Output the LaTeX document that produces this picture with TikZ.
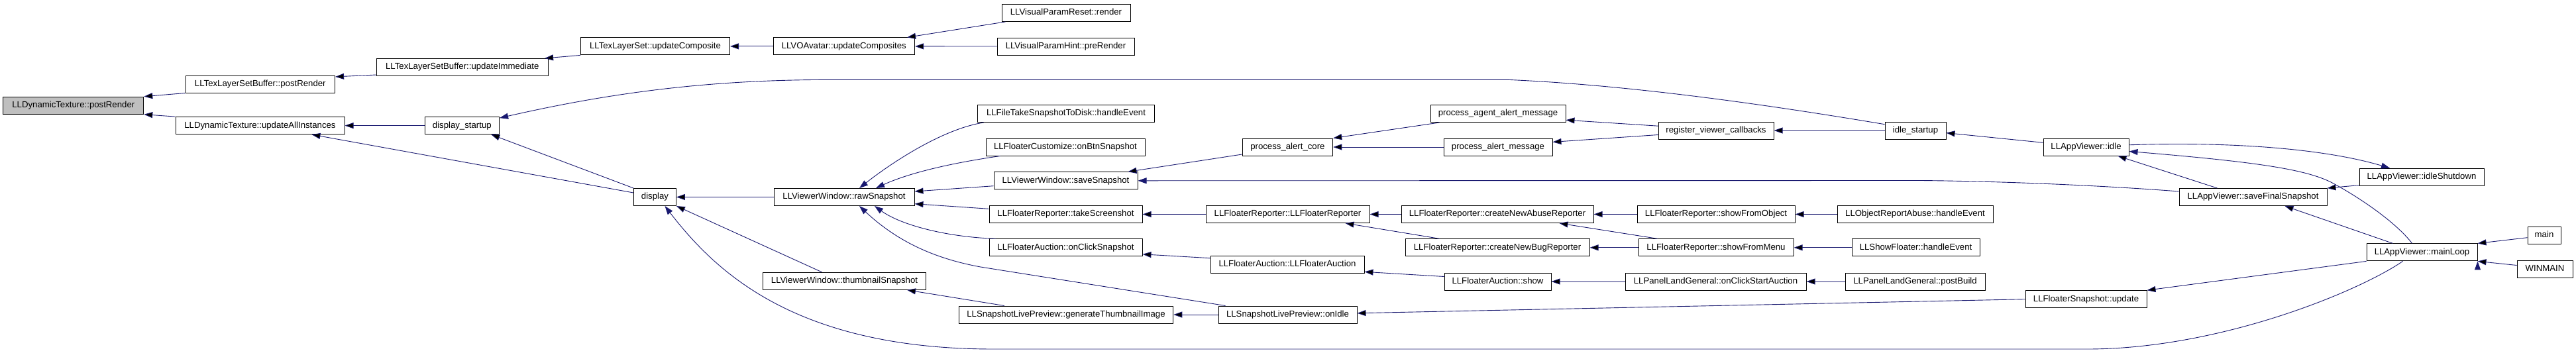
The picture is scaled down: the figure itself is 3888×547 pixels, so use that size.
\documentclass[tikz,border=0pt]{standalone}
\usepackage{fontspec}
\setmainfont{Liberation Sans}
\usetikzlibrary{arrows.meta}
\definecolor{edgeblue}{HTML}{191970}

\begin{document}
\begin{tikzpicture}[x=1pt,y=-1pt,
    box/.style={draw=black,line width=1pt,fill=white,minimum height=26pt,inner sep=0pt,
      text height=9.6pt,text depth=2.8pt,font=\fontsize{13.2}{15}\selectfont},
    call/.style={draw=edgeblue,line width=0.9pt,{Triangle[length=13pt,width=9pt]}-},
    callr/.style={draw=edgeblue,line width=0.9pt,-{Triangle[length=13pt,width=9pt]}}]
  \useasboundingbox (0,0) rectangle (3888,547);
  % columns from left to right
  \node[box,fill=black!25,minimum width=212pt] (dtPost) at (110.8,159.2) {LLDynamicTexture::postRender};
  \node[box,minimum width=225.6pt] (tlsbPost) at (392.8,127) {LLTexLayerSetBuffer::postRender};
  \node[box,minimum width=255pt] (dtUpdAll) at (392.5,189.6) {LLDynamicTexture::updateAllInstances};
  \node[box,minimum width=259.6pt] (tlsbImm) at (697.8,101.5) {LLTexLayerSetBuffer::updateImmediate};
  \node[box,minimum width=112.6pt] (dispStart) at (697.3,189.6) {display\_startup};
  \node[box,minimum width=225pt] (tlsComp) at (989,69.9) {LLTexLayerSet::updateComposite};
  \node[box,minimum width=63.8pt] (disp) at (988.5,297.5) {display};
  \node[box,minimum width=213.6pt] (avComp) at (1273.8,69.9) {LLVOAvatar::updateComposites};
  \node[box,minimum width=212pt] (rawSnap) at (1274,297.5) {LLViewerWindow::rawSnapshot};
  \node[box,minimum width=246pt] (thumbSnap) at (1274.5,424.3) {LLViewerWindow::thumbnailSnapshot};
  \node[box,minimum width=194pt] (vpReset) at (1609,19.4) {LLVisualParamReset::render};
  \node[box,minimum width=207pt] (vpHint) at (1608.5,70) {LLVisualParamHint::preRender};
  \node[box,minimum width=267.5pt] (fileSnap) at (1609,171.5) {LLFileTakeSnapshotToDisk::handleEvent};
  \node[box,minimum width=240pt] (custSnap) at (1608,222) {LLFloaterCustomize::onBtnSnapshot};
  \node[box,minimum width=217pt] (saveSnap) at (1608.5,272.8) {LLViewerWindow::saveSnapshot};
  \node[box,minimum width=231pt] (repShot) at (1608.5,323.5) {LLFloaterReporter::takeScreenshot};
  \node[box,minimum width=231pt] (aucSnap) at (1608.5,373.8) {LLFloaterAuction::onClickSnapshot};
  \node[box,minimum width=323.5pt] (genThumb) at (1609,475) {LLSnapshotLivePreview::generateThumbnailImage};
  \node[box,minimum width=136.7pt] (alertCore) at (1943.4,222) {process\_alert\_core};
  \node[box,minimum width=247pt] (repCtor) at (1943.5,323.5) {LLFloaterReporter::LLFloaterReporter};
  \node[box,minimum width=232pt] (aucCtor) at (1943,399.2) {LLFloaterAuction::LLFloaterAuction};
  \node[box,minimum width=209pt] (onIdle) at (1943.5,475) {LLSnapshotLivePreview::onIdle};
  \node[box,minimum width=204pt] (agentAlert) at (2261,171.5) {process\_agent\_alert\_message};
  \node[box,minimum width=164pt] (alertMsg) at (2261,222) {process\_alert\_message};
  \node[box,minimum width=290pt] (newAbuse) at (2260,323.5) {LLFloaterReporter::createNewAbuseReporter};
  \node[box,minimum width=278pt] (newBug) at (2260,373.8) {LLFloaterReporter::createNewBugReporter};
  \node[box,minimum width=161pt] (aucShow) at (2260.5,425) {LLFloaterAuction::show};
  \node[box,minimum width=174pt] (regCb) at (2590,197) {register\_viewer\_callbacks};
  \node[box,minimum width=238pt] (fromObj) at (2590,323.5) {LLFloaterReporter::showFromObject};
  \node[box,minimum width=234pt] (fromMenu) at (2590,373.8) {LLFloaterReporter::showFromMenu};
  \node[box,minimum width=273pt] (startAuc) at (2589.5,425) {LLPanelLandGeneral::onClickStartAuction};
  \node[box,minimum width=92pt] (idleStart) at (2891,197) {idle\_startup};
  \node[box,minimum width=235pt] (objAbuse) at (2890.5,323.5) {LLObjectReportAbuse::handleEvent};
  \node[box,minimum width=193pt] (showFl) at (2891.5,373.8) {LLShowFloater::handleEvent};
  \node[box,minimum width=211pt] (landBuild) at (2890.5,425) {LLPanelLandGeneral::postBuild};
  \node[box,minimum width=129pt] (appIdle) at (3148.5,222) {LLAppViewer::idle};
  \node[box,minimum width=183pt] (snapUpd) at (3148.5,451.7) {LLFloaterSnapshot::update};
  \node[box,minimum width=223pt] (finalSnap) at (3400.5,297.5) {LLAppViewer::saveFinalSnapshot};
  \node[box,minimum width=188pt] (idleShut) at (3655,267.3) {LLAppViewer::idleShutdown};
  \node[box,minimum width=167pt] (mainLoop) at (3655.5,380.9) {LLAppViewer::mainLoop};
  \node[box,minimum width=50pt] (main) at (3840,355.4) {main};
  \node[box,minimum width=84pt] (winmain) at (3841,406) {WINMAIN};

  % straight calls, arrow at the callee
  \path[call]
    (dtPost.north east) edge (tlsbPost.south west)
    (dtPost.south east) edge (dtUpdAll.north west)
    ([yshift=-2.4pt]tlsbPost.north east) edge ([yshift=2pt]tlsbImm.south west)
    ([xshift=-6pt]tlsbImm.north east) edge (tlsComp.south west)
    (tlsComp) edge (avComp)
    ([xshift=-12pt]avComp.north east) edge ([xshift=6pt]vpReset.south west)
    (avComp) edge (vpHint)
    (dtUpdAll) edge (dispStart)
    ([xshift=78pt]dtUpdAll.south) edge ([yshift=6.5pt]disp.west)
    ([xshift=44pt]dispStart.south) edge (disp.north west)
    (disp) edge (rawSnap)
    (disp.south east) edge ([xshift=-34pt]thumbSnap.north)
    ([yshift=-5pt]rawSnap.north east) edge ([yshift=5.6pt]saveSnap.south west)
    ([yshift=3.3pt]rawSnap.south east) edge ([yshift=-5.3pt]repShot.north west)
    ([xshift=-29pt]thumbSnap.south east) edge ([xshift=69pt]genThumb.north west)
    (genThumb) edge (onIdle)
    ([xshift=-15pt]saveSnap.north east) edge ([yshift=2.5pt]alertCore.south west)
    (repShot) edge (repCtor)
    ([yshift=3.5pt]aucSnap.south east) edge ([yshift=-4pt]aucCtor.north west)
    (alertCore.north east) edge ([xshift=14pt]agentAlert.south west)
    (alertCore) edge (alertMsg)
    (repCtor) edge (newAbuse)
    ([xshift=-37pt]repCtor.south east) edge ([xshift=52pt]newBug.north west)
    ([yshift=2.4pt]aucCtor.south east) edge ([yshift=-6pt]aucShow.north west)
    ([yshift=3.8pt]agentAlert.south east) edge ([yshift=-6.7pt]regCb.north west)
    ([yshift=-5.9pt]alertMsg.north east) edge ([yshift=7pt]regCb.south west)
    (newAbuse) edge (fromObj)
    ([xshift=-52pt]newAbuse.south east) edge ([xshift=29pt]fromMenu.north west)
    (newBug) edge (fromMenu)
    (aucShow) edge (startAuc)
    (regCb) edge (idleStart)
    (fromObj) edge (objAbuse)
    (fromMenu) edge (showFl)
    (startAuc) edge (landBuild)
    ([yshift=-3.6pt]idleStart.east) edge ([yshift=6.7pt]appIdle.west)
    ([yshift=2.2pt]onIdle.east) edge (snapUpd.west)
    (snapUpd.north east) edge (mainLoop.south west)
    ([xshift=48pt]appIdle.south) edge ([xshift=-54pt]finalSnap.north)
    (finalSnap.north east) edge ([yshift=1.2pt]idleShut.south west)
    ([xshift=48pt]finalSnap.south) edge ([xshift=-44pt]mainLoop.north)
    (mainLoop.north east) edge ([yshift=10.2pt]main.south west)
    (mainLoop.south east) edge ([yshift=-8pt]winmain.north west);

  % bent calls
  \draw[call] ([yshift=-2pt]dispStart.north east) .. controls (900,145) and (1050,120.4) .. (1250,120.4)
    -- (2277,120.4) .. controls (2450,128) and (2650,155) .. ([yshift=-4.2pt]idleStart.north west);
  \draw[call] ([xshift=15pt]disp.south) .. controls (1080,410) and (1200,527) .. (1500,527)
    -- (3150,527) .. controls (3350,527) and (3560,440) .. ([xshift=-29pt]mainLoop.south);
  \draw[call] ([xshift=23pt]rawSnap.north) .. controls (1340,250) and (1420,195) .. ([xshift=10pt]fileSnap.south west);
  \draw[call] ([xshift=48pt]rawSnap.north) .. controls (1370,262) and (1430,247) .. ([xshift=22pt]custSnap.south west);
  \draw[call] ([xshift=46pt]rawSnap.south) .. controls (1360,340) and (1430,358) .. ([xshift=10pt]aucSnap.north west);
  \draw[call] ([xshift=23pt]rawSnap.south) .. controls (1360,370) and (1420,392) .. (1480,403)
    -- ([xshift=11pt]onIdle.north west);
  \draw[call] (saveSnap.east) -- (2900,272.5) .. controls (3050,274) and (3200,282) .. ([yshift=8.5pt]finalSnap.west);
  \draw[call] ([yshift=-6.5pt]appIdle.east) .. controls (3400,244) and (3480,255) .. (3520,276)
    .. controls (3570,303) and (3620,340) .. ([xshift=-15pt]mainLoop.north);
  \draw[callr] ([yshift=3.2pt]appIdle.east) .. controls (3350,214) and (3500,222) .. ([xshift=-48pt]idleShut.north);
\end{tikzpicture}
\end{document}
